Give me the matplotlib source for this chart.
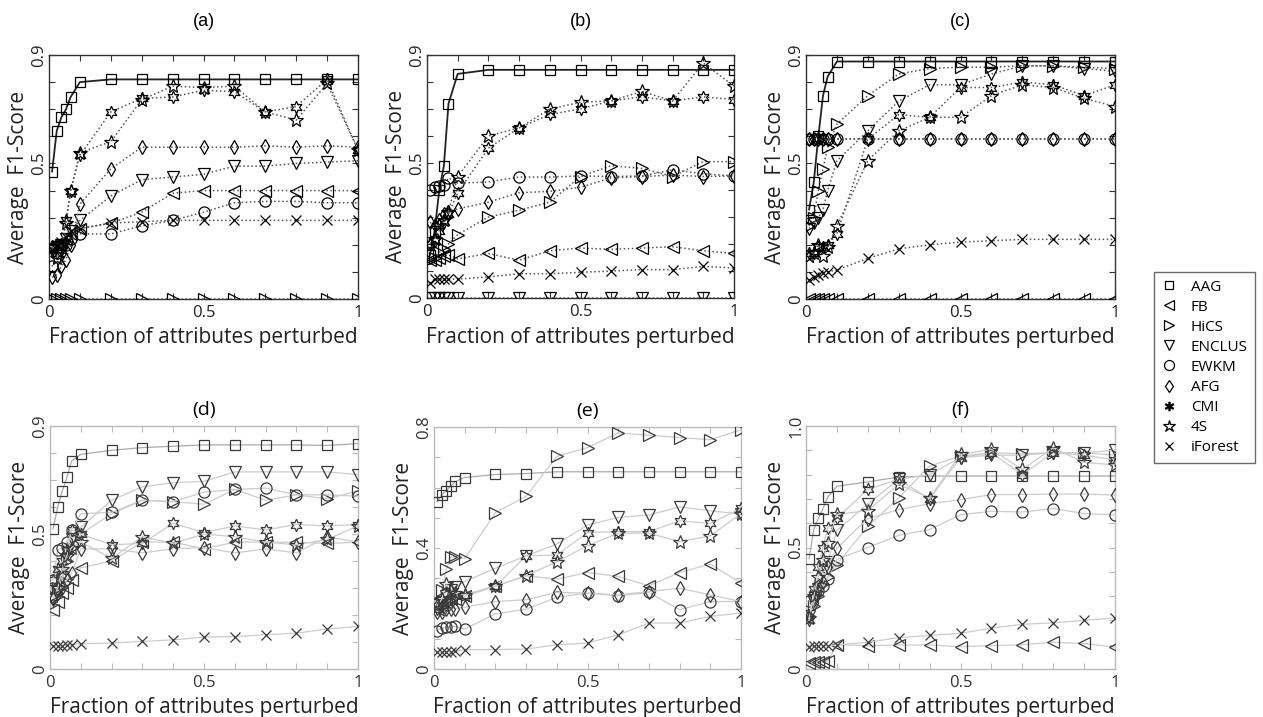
import matplotlib
matplotlib.use("Agg")
import matplotlib.pyplot as plt
from matplotlib.lines import Line2D
from matplotlib.ticker import MultipleLocator

W, H = 1263, 717

# fraction of attributes perturbed (shared x values)
X = [0.01, 0.025, 0.04, 0.055, 0.07, 0.1, 0.2, 0.3, 0.4, 0.5, 0.6, 0.7, 0.8, 0.9, 1.0]

methods = ["AAG", "FB", "HiCS", "ENCLUS", "EWKM", "AFG", "CMI", "4S", "iForest"]

# panel (a)
a_AAG = [0.47, 0.62, 0.67, 0.70, 0.745, 0.80, 0.81, 0.81, 0.81, 0.81, 0.81, 0.81, 0.81, 0.81, 0.81]
a_FB = [0.20, 0.20, 0.21, 0.22, 0.24, 0.26, 0.28, 0.32, 0.39, 0.40, 0.40, 0.40, 0.40, 0.40, 0.40]
a_HiCS = [0, 0, 0, 0, 0, 0, 0, 0, 0, 0, 0, 0, 0, 0, 0]
a_ENCLUS = [0.18, 0.19, 0.20, 0.22, 0.25, 0.29, 0.38, 0.44, 0.45, 0.46, 0.49, 0.49, 0.50, 0.505, 0.51]
a_EWKM = [0.12, 0.17, 0.19, 0.20, 0.22, 0.24, 0.24, 0.27, 0.29, 0.32, 0.355, 0.36, 0.36, 0.355, 0.355]
a_AFG = [0.08, 0.09, 0.12, 0.145, 0.20, 0.35, 0.48, 0.56, 0.56, 0.56, 0.56, 0.565, 0.56, 0.565, 0.56]
a_CMI = [0.19, 0.17, 0.18, 0.29, 0.40, 0.53, 0.69, 0.74, 0.745, 0.77, 0.765, 0.69, 0.71, 0.81, 0.55]
a_4S = [0.19, 0.15, 0.20, 0.28, 0.40, 0.54, 0.58, 0.735, 0.785, 0.78, 0.785, 0.69, 0.66, 0.795, 0.55]
a_iForest = [0.18, 0.20, 0.21, 0.23, 0.25, 0.26, 0.28, 0.285, 0.29, 0.29, 0.29, 0.29, 0.29, 0.29, 0.29]

# panel (b)
b_AAG = [0.16, 0.25, 0.40, 0.49, 0.72, 0.83, 0.845, 0.845, 0.845, 0.845, 0.845, 0.845, 0.845, 0.845, 0.845]
b_FB = [0.14, 0.14, 0.15, 0.155, 0.16, 0.145, 0.165, 0.14, 0.175, 0.185, 0.18, 0.185, 0.19, 0.175, 0.165]
b_HiCS = [0.14, 0.15, 0.17, 0.18, 0.20, 0.235, 0.30, 0.325, 0.355, 0.45, 0.49, 0.48, 0.45, 0.505, 0.505]
b_ENCLUS = [0, 0, 0, 0, 0, 0, 0, 0, 0, 0, 0, 0, 0, 0, 0]
b_EWKM = [0.40, 0.41, 0.415, 0.42, 0.445, 0.425, 0.43, 0.448, 0.448, 0.452, 0.45, 0.452, 0.475, 0.46, 0.452]
b_AFG = [0.28, 0.27, 0.29, 0.31, 0.32, 0.33, 0.355, 0.39, 0.395, 0.41, 0.445, 0.45, 0.455, 0.45, 0.452]
b_CMI = [0.20, 0.21, 0.25, 0.28, 0.31, 0.39, 0.555, 0.63, 0.68, 0.70, 0.73, 0.745, 0.73, 0.745, 0.735]
b_4S = [0.20, 0.22, 0.27, 0.29, 0.32, 0.45, 0.60, 0.63, 0.70, 0.725, 0.73, 0.765, 0.73, 0.87, 0.785]
b_iForest = [0.055, 0.07, 0.07, 0.07, 0.07, 0.07, 0.078, 0.09, 0.09, 0.095, 0.10, 0.105, 0.105, 0.117, 0.111]

# panel (c)
c_AAG = [0.33, 0.43, 0.60, 0.75, 0.82, 0.876, 0.876, 0.876, 0.876, 0.876, 0.876, 0.876, 0.876, 0.876, 0.876]
c_FB = [0, 0, 0, 0, 0, 0, 0, 0, 0, 0, 0, 0, 0, 0, 0]
c_HiCS = [0.27, 0.30, 0.40, 0.48, 0.56, 0.645, 0.75, 0.83, 0.85, 0.855, 0.855, 0.86, 0.86, 0.855, 0.85]
c_ENCLUS = [0.26, 0.28, 0.30, 0.33, 0.40, 0.51, 0.62, 0.73, 0.79, 0.79, 0.83, 0.86, 0.86, 0.85, 0.84]
c_EWKM = [0.59, 0.59, 0.59, 0.59, 0.59, 0.59, 0.59, 0.59, 0.59, 0.59, 0.59, 0.59, 0.59, 0.59, 0.59]
c_AFG = [0.59, 0.59, 0.59, 0.59, 0.59, 0.59, 0.59, 0.59, 0.59, 0.59, 0.59, 0.59, 0.59, 0.59, 0.59]
c_CMI = [0.17, 0.17, 0.19, 0.19, 0.20, 0.24, 0.59, 0.68, 0.67, 0.78, 0.78, 0.80, 0.79, 0.75, 0.79]
c_4S = [0.16, 0.17, 0.20, 0.16, 0.19, 0.27, 0.51, 0.62, 0.67, 0.67, 0.75, 0.79, 0.78, 0.74, 0.71]
c_iForest = [0.07, 0.08, 0.09, 0.095, 0.10, 0.107, 0.15, 0.185, 0.20, 0.21, 0.215, 0.22, 0.22, 0.22, 0.22]

# panel (d)
d_AAG = [0.52, 0.60, 0.66, 0.71, 0.77, 0.795, 0.81, 0.82, 0.825, 0.83, 0.83, 0.83, 0.83, 0.828, 0.835]
d_FB = [0.22, 0.25, 0.28, 0.30, 0.33, 0.375, 0.40, 0.47, 0.47, 0.445, 0.47, 0.47, 0.47, 0.465, 0.47]
d_HiCS = [0.27, 0.30, 0.33, 0.40, 0.45, 0.50, 0.575, 0.625, 0.62, 0.61, 0.665, 0.625, 0.645, 0.63, 0.66]
d_ENCLUS = [0.26, 0.29, 0.34, 0.43, 0.48, 0.525, 0.625, 0.675, 0.69, 0.695, 0.73, 0.73, 0.73, 0.73, 0.72]
d_EWKM = [0.33, 0.44, 0.45, 0.47, 0.515, 0.575, 0.58, 0.625, 0.62, 0.655, 0.665, 0.67, 0.645, 0.645, 0.64]
d_AFG = [0.26, 0.28, 0.30, 0.33, 0.355, 0.445, 0.445, 0.43, 0.445, 0.45, 0.43, 0.445, 0.43, 0.49, 0.47]
d_CMI = [0.33, 0.37, 0.40, 0.44, 0.515, 0.50, 0.46, 0.465, 0.54, 0.505, 0.53, 0.515, 0.535, 0.53, 0.535]
d_4S = [0.27, 0.30, 0.37, 0.42, 0.45, 0.47, 0.41, 0.49, 0.465, 0.50, 0.49, 0.47, 0.46, 0.48, 0.53]
d_iForest = [0.084, 0.085, 0.086, 0.088, 0.09, 0.094, 0.096, 0.102, 0.108, 0.118, 0.12, 0.127, 0.133, 0.148, 0.158]

# panel (e)
e_AAG = [0.553, 0.575, 0.59, 0.605, 0.62, 0.633, 0.643, 0.646, 0.652, 0.652, 0.652, 0.652, 0.652, 0.652, 0.652]
e_FB = [0.20, 0.21, 0.22, 0.23, 0.23, 0.24, 0.273, 0.308, 0.297, 0.319, 0.306, 0.275, 0.319, 0.347, 0.284]
e_HiCS = [0.22, 0.26, 0.33, 0.37, 0.37, 0.365, 0.517, 0.571, 0.703, 0.732, 0.78, 0.773, 0.765, 0.758, 0.791]
e_ENCLUS = [0.21, 0.22, 0.24, 0.26, 0.27, 0.289, 0.333, 0.374, 0.413, 0.476, 0.501, 0.509, 0.536, 0.523, 0.512]
e_EWKM = [0.127, 0.135, 0.138, 0.14, 0.141, 0.132, 0.182, 0.198, 0.237, 0.251, 0.242, 0.253, 0.196, 0.223, 0.223]
e_AFG = [0.19, 0.19, 0.20, 0.20, 0.20, 0.204, 0.223, 0.229, 0.253, 0.251, 0.245, 0.256, 0.267, 0.245, 0.223]
e_CMI = [0.20, 0.21, 0.22, 0.23, 0.24, 0.245, 0.273, 0.374, 0.377, 0.451, 0.454, 0.454, 0.49, 0.481, 0.531]
e_4S = [0.21, 0.23, 0.28, 0.26, 0.25, 0.245, 0.275, 0.308, 0.355, 0.407, 0.449, 0.449, 0.421, 0.44, 0.514]
e_iForest = [0.055, 0.056, 0.057, 0.057, 0.058, 0.064, 0.064, 0.066, 0.08, 0.086, 0.113, 0.152, 0.152, 0.174, 0.185]

# panel (f)
f_AAG = [0.454, 0.574, 0.62, 0.66, 0.707, 0.752, 0.77, 0.79, 0.794, 0.794, 0.794, 0.794, 0.794, 0.794, 0.794]
f_FB = [0.025, 0.028, 0.03, 0.03, 0.032, 0.10, 0.096, 0.099, 0.099, 0.092, 0.096, 0.10, 0.11, 0.105, 0.09]
f_HiCS = [0.22, 0.26, 0.30, 0.35, 0.38, 0.43, 0.587, 0.704, 0.835, 0.876, 0.89, 0.886, 0.89, 0.89, 0.88]
f_ENCLUS = [0.22, 0.28, 0.33, 0.40, 0.44, 0.57, 0.68, 0.78, 0.80, 0.87, 0.88, 0.88, 0.89, 0.89, 0.90]
f_EWKM = [0.28, 0.30, 0.32, 0.34, 0.37, 0.45, 0.50, 0.55, 0.574, 0.635, 0.649, 0.646, 0.66, 0.64, 0.634]
f_AFG = [0.22, 0.27, 0.32, 0.36, 0.42, 0.498, 0.619, 0.656, 0.68, 0.697, 0.718, 0.718, 0.72, 0.72, 0.716]
f_CMI = [0.20, 0.33, 0.42, 0.50, 0.58, 0.62, 0.74, 0.78, 0.70, 0.87, 0.89, 0.80, 0.89, 0.88, 0.86]
f_4S = [0.21, 0.30, 0.38, 0.45, 0.52, 0.636, 0.652, 0.76, 0.704, 0.883, 0.904, 0.821, 0.91, 0.85, 0.84]
f_iForest = [0.092, 0.093, 0.094, 0.095, 0.096, 0.099, 0.11, 0.129, 0.138, 0.147, 0.168, 0.184, 0.19, 0.20, 0.21]

panels = [
    ("(a)", [a_AAG, a_FB, a_HiCS, a_ENCLUS, a_EWKM, a_AFG, a_CMI, a_4S, a_iForest], [0, 0.5, 0.9], ["0", "0.5", "0.9"]),
    ("(b)", [b_AAG, b_FB, b_HiCS, b_ENCLUS, b_EWKM, b_AFG, b_CMI, b_4S, b_iForest], [0, 0.5, 0.9], ["0", "0.5", "0.9"]),
    ("(c)", [c_AAG, c_FB, c_HiCS, c_ENCLUS, c_EWKM, c_AFG, c_CMI, c_4S, c_iForest], [0, 0.5, 0.9], ["0", "0.5", "0.9"]),
    ("(d)", [d_AAG, d_FB, d_HiCS, d_ENCLUS, d_EWKM, d_AFG, d_CMI, d_4S, d_iForest], [0, 0.5, 0.9], ["0", "0.5", "0.9"]),
    ("(e)", [e_AAG, e_FB, e_HiCS, e_ENCLUS, e_EWKM, e_AFG, e_CMI, e_4S, e_iForest], [0, 0.4, 0.8], ["0", "0.4", "0.8"]),
    ("(f)", [f_AAG, f_FB, f_HiCS, f_ENCLUS, f_EWKM, f_AFG, f_CMI, f_4S, f_iForest], [0, 0.5, 1.0], ["0", "0.5", "1.0"]),
]

# axes boxes in pixels: left, top, right, bottom
boxes = [(49, 55, 358, 299), (427, 55, 734, 298), (806, 55, 1115, 299),
         (50, 426, 358, 669), (434, 427, 741, 669), (806, 426, 1115, 669)]

hexagram = (6, 1, 0)
markers = ["s", "<", ">", "v", "o", "d", hexagram, "*", "x"]
msizes = [7, 8, 8, 8, 8, 7, 9, 10, 7]

lab_font = "Open Sans"

fig = plt.figure(figsize=(W / 100, H / 100), dpi=100)

for i, (title, series, yt, ylabels) in enumerate(panels):
    l, t, r, b = boxes[i]
    ax = fig.add_axes([l / W, 1 - b / H, (r - l) / W, (b - t) / H])
    top_row = i < 3
    spine_col = "#333333" if top_row else "#bbbbbb"
    mk_col = "black" if top_row else "#3a3a3a"
    for j, ys in enumerate(series):
        if top_row:
            if j == 0:
                ls, lc, lw = "-", "#222222", 1.3
            else:
                ls, lc, lw = ":", "#555555", 1.1
        else:
            ls, lc, lw = "-", "#aaaaaa" if j == 0 else "#cccccc", 0.9
        ax.plot(X, ys, linestyle=ls, color=lc, lw=lw, marker=markers[j],
                ms=msizes[j], mfc="none", mec=mk_col, mew=0.9, zorder=3 + j)
    ax.set_xlim(0, 1)
    ax.set_ylim(0, yt[-1])
    ax.set_xticks([0, 0.5, 1])
    ax.set_xticklabels(["0", "0.5", "1"])
    ax.set_yticks(yt)
    ax.set_yticklabels(ylabels, rotation=90, va="center")
    ax.xaxis.set_minor_locator(MultipleLocator(0.1))
    ax.yaxis.set_minor_locator(MultipleLocator(0.1))
    ax.tick_params(which="both", direction="in", top=True, right=True,
                   color=spine_col, width=0.8)
    ax.tick_params(which="major", length=4, labelsize=12)
    ax.tick_params(which="minor", length=4)
    ax.tick_params(axis="x", pad=4)
    ax.tick_params(axis="y", pad=1)
    for lab in ax.get_xticklabels() + ax.get_yticklabels():
        lab.set_fontfamily(lab_font)
        lab.set_color("#222222" if top_row else "#333333")
    for s in ax.spines.values():
        s.set_color(spine_col)
        s.set_linewidth(1.0)
    ax.set_xlabel("Fraction of attributes perturbed", fontsize=15,
                  fontfamily=lab_font, labelpad=5, color="#222222")
    ax.set_ylabel("Average  F1-Score", fontsize=15, fontfamily=lab_font,
                  labelpad=2, color="#222222")
    if top_row:
        ax.set_title(title, fontsize=13, fontfamily="Liberation Sans", pad=21)
    else:
        ax.set_title(title, fontsize=14, fontfamily=lab_font, pad=8)

handles = [Line2D([], [], linestyle="none", marker=m, ms=s * 0.9, mfc="none",
                  mec="black", mew=0.9) for m, s in zip(markers, msizes)]
handles[6] = Line2D([], [], linestyle="none", marker="$*$", ms=6, color="black")
leg = fig.legend(handles, methods, loc="upper left",
                 bbox_to_anchor=(1154 / W, 1 - 272 / H), frameon=True,
                 fancybox=False, edgecolor="#444444", prop={"family": lab_font, "size": 11},
                 handlelength=1.0, handletextpad=0.9, labelspacing=0.33,
                 borderpad=0.5, borderaxespad=0)
leg.get_frame().set_linewidth(1.0)

fig.savefig("out.png", dpi=100)
